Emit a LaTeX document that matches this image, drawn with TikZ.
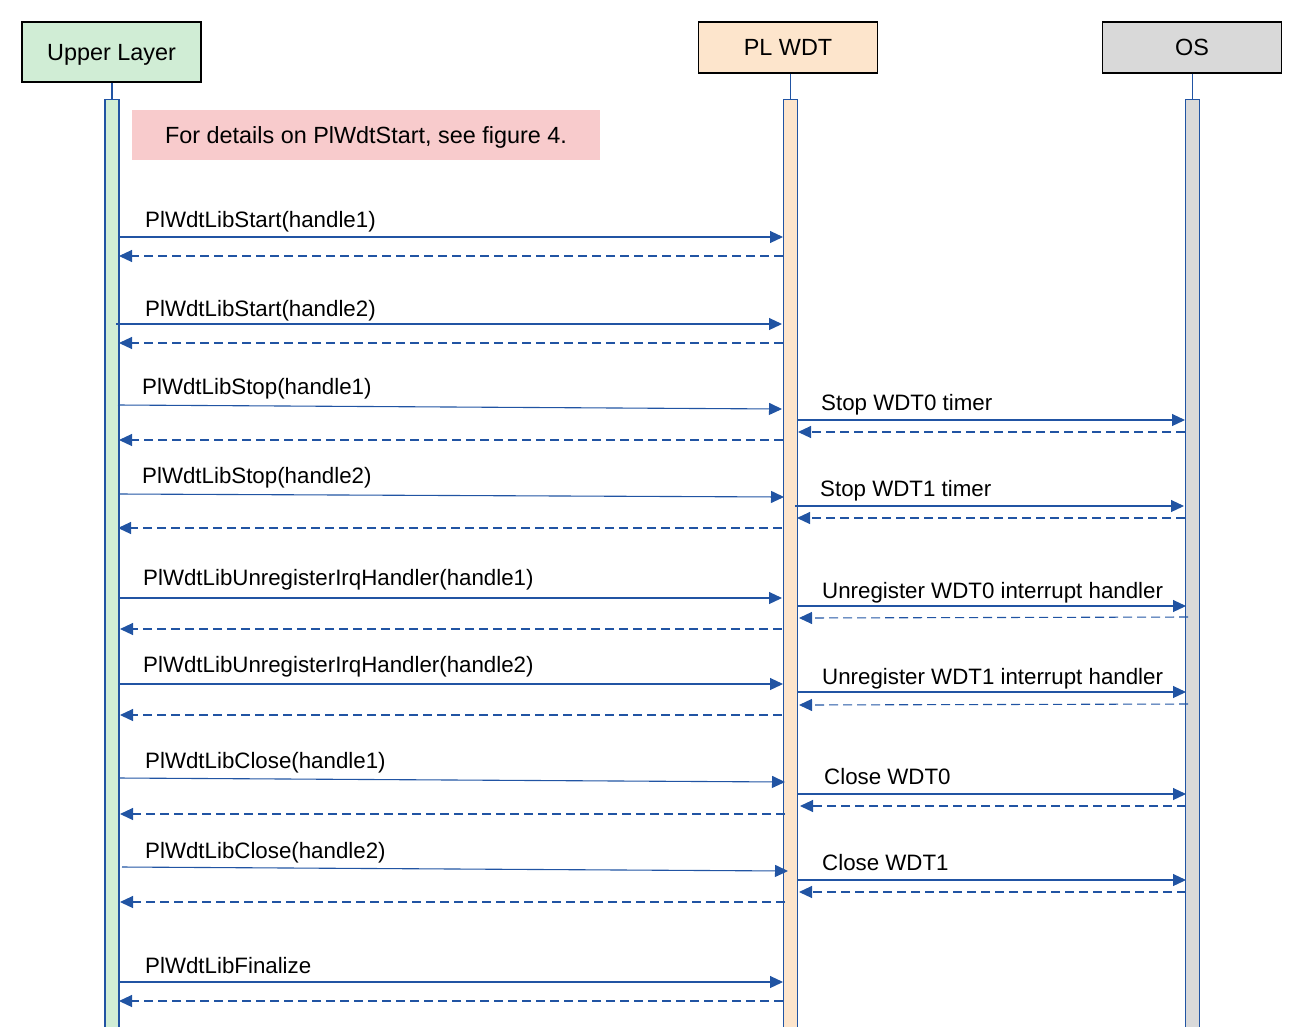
\documentclass[tikz,border=0pt]{standalone}
\usepackage{fontspec}
\setmainfont{Liberation Sans}
\usetikzlibrary{arrows.meta}
\definecolor{lnblue}{RGB}{33,84,163}
\definecolor{upfill}{RGB}{208,237,213}
\definecolor{plfill}{RGB}{253,229,204}
\definecolor{osfill}{RGB}{217,217,217}
\definecolor{notefill}{RGB}{248,203,204}
\tikzset{
  head/.style={draw=black, line width=1.2pt, minimum width=179pt, inner sep=0pt, text height=16.8pt, text depth=0pt, font=\fontsize{23.4}{28}\selectfont},
  actbar/.style={draw=lnblue, line width=1.1pt, minimum width=14pt, minimum height=945pt, anchor=north, inner sep=0pt},
  stub/.style={draw=lnblue, line width=1.1pt},
  msg/.style={draw=lnblue, line width=1.1pt, -{Triangle[length=13pt,width=12pt]}},
  ret/.style={msg, dash pattern=on 9pt off 5pt},
  lbl/.style={anchor=base west, inner sep=0pt, font=\fontsize{22.3}{27}\selectfont},
}
\begin{document}
\begin{tikzpicture}[x=1pt,y=-1pt]
\useasboundingbox (0,0) rectangle (1297,1026);
\clip (0,0) rectangle (1297,1026);
% headers
\node[head, fill=upfill, minimum height=60pt] (up) at (111.5,52) {Upper Layer};
\node[head, fill=plfill, minimum height=51pt] (pl) at (788,47.5) {PL WDT};
\node[head, fill=osfill, minimum height=51pt] (os) at (1192,47.5) {OS};
% activation bars
\node[actbar, fill=upfill] (upbar) at (112,99) {};
\node[actbar, fill=plfill] (plbar) at (790.5,99) {};
\node[actbar, fill=osfill] (osbar) at (1192.5,99) {};
\draw[stub] (upbar.north |- up.south) -- (upbar.north);
\draw[stub] (plbar.north |- pl.south) -- (plbar.north);
\draw[stub] (osbar.north |- os.south) -- (osbar.north);
% note
\node[fill=notefill, minimum width=468pt, minimum height=50pt, inner sep=0pt, text height=17pt, text depth=0pt, font=\fontsize{23.4}{28}\selectfont] (note) at (366,135) {For details on PlWdtStart, see figure 4.};
% calls
\foreach \n/\xa/\ya/\xb/\yb in {
  s1/119/237/783/237, s2/116/324/782/324, s3/118/405/782/409, s4/119/494/784/497,
  s5/119/598/782/598, s6/119/684/783/684, s7/119/778/785/782, s8/122/867/788/871,
  s9/119/982/783/982,
  o3/797/420/1185/420, o4/795/506/1184/506, o5/797/606/1186/606, o6/797/692/1186/692,
  o7/798/794/1186/794, o8/798/880/1186/880}{
  \coordinate (\n a) at (\xa,\ya);
  \coordinate (\n b) at (\xb,\yb);
  \draw[msg] (\n a) -- (\n b);
}
% returns
\foreach \n/\xa/\ya/\xb/\yb in {
  r1/783/256/119/256, r2/783/343/119/343, r3/783/440/119/440, r4/782/528/118/528,
  r5/782/629/120/629, r6/782/715/120/715, r7/785/814/120/814, r8/785/902/120/902,
  r9/783/1001/119/1001,
  q3/1185/432/798/432, q4/1185/518/797/518, q5/1188/617/799/618, q6/1188/704/799/705,
  q7/1186/806/800/806, q8/1186/892/799/892}{
  \coordinate (\n a) at (\xa,\ya);
  \coordinate (\n b) at (\xb,\yb);
  \draw[ret] (\n a) -- (\n b);
}
% labels
\node[lbl] (l1) at (145,227) {PlWdtLibStart(handle1)};
\node[lbl] (l2) at (145,316) {PlWdtLibStart(handle2)};
\node[lbl] (l3) at (142,394) {PlWdtLibStop(handle1)};
\node[lbl] (l4) at (142,483) {PlWdtLibStop(handle2)};
\node[lbl] (l5) at (143,585) {PlWdtLibUnregisterIrqHandler(handle1)};
\node[lbl] (l6) at (143,672) {PlWdtLibUnregisterIrqHandler(handle2)};
\node[lbl] (l7) at (145,768) {PlWdtLibClose(handle1)};
\node[lbl] (l8) at (145,858) {PlWdtLibClose(handle2)};
\node[lbl] (l9) at (145,973) {PlWdtLibFinalize};
\node[lbl] (k3) at (821,410) {Stop WDT0 timer};
\node[lbl] (k4) at (820,496) {Stop WDT1 timer};
\node[lbl] (k5) at (822,598) {Unregister WDT0 interrupt handler};
\node[lbl] (k6) at (822,684) {Unregister WDT1 interrupt handler};
\node[lbl] (k7) at (824,784) {Close WDT0};
\node[lbl] (k8) at (822,870) {Close WDT1};
\end{tikzpicture}
\end{document}
